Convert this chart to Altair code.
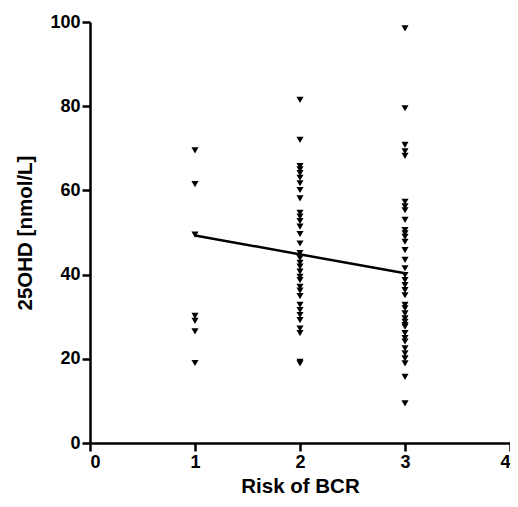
import altair as alt
import pandas as pd

group1 = [69.5, 61.5, 49.5, 30.2, 29.0, 26.5, 19.0]
group2 = [81.5, 72.0, 65.8, 65.0, 64.1, 63.0, 61.7, 60.1, 58.1, 54.7, 53.8, 52.7,
          51.4, 49.6, 47.4, 45.1, 43.9, 42.8, 41.9, 40.7, 39.5, 38.7, 37.1, 36.2,
          34.9, 32.8, 31.6, 30.4, 29.2, 27.2, 26.1, 19.3, 18.9]
group3 = [98.5, 79.5, 70.8, 69.3, 68.2, 57.3, 56.2, 55.3, 53.0, 50.6, 49.8, 49.0,
          47.8, 45.8, 43.5, 41.5, 39.9, 38.7, 37.5, 36.3, 35.1, 32.8, 32.0, 30.8,
          29.6, 28.8, 28.0, 27.6, 26.1, 24.9, 24.1, 22.5, 21.3, 20.1, 18.9, 15.7, 9.4]
fit_x = [1, 3]
fit_y = [49.3, 40.3]

rows = [{"risk": 1, "v": v} for v in group1] + \
       [{"risk": 2, "v": v} for v in group2] + \
       [{"risk": 3, "v": v} for v in group3]
pts = pd.DataFrame(rows)
fit = pd.DataFrame({"risk": fit_x, "v": fit_y})

FONT = "Liberation Sans"
xs = alt.Scale(domain=[0, 4], nice=False, zero=False)
ys = alt.Scale(domain=[0, 100], nice=False)

points = alt.Chart(pts).mark_point(shape="triangle-down", filled=True, color="black",
                                   size=50, opacity=1).encode(
    x=alt.X("risk:Q", scale=xs,
            axis=alt.Axis(title="Risk of BCR", values=[0, 1, 2, 3, 4], format="d")),
    y=alt.Y("v:Q", scale=ys,
            axis=alt.Axis(title="25OHD [nmol/L]", values=[0, 20, 40, 60, 80, 100])),
)
line = alt.Chart(fit).mark_line(color="black", strokeWidth=2.5).encode(
    x=alt.X("risk:Q", scale=xs, title="Risk of BCR"),
    y=alt.Y("v:Q", scale=ys, title="25OHD [nmol/L]"),
)

chart = alt.layer(points, line).properties(
    width=420, height=421,
    autosize=alt.AutoSizeParams(type="none"),
    padding={"left": 82, "top": 14, "right": 0, "bottom": 56},
).configure_view(stroke=None).configure_axis(
    grid=False, domainColor="black", domainWidth=2.5, tickColor="black", tickWidth=2.5,
    tickSize=8, labelFont=FONT, labelFontSize=18, labelFontWeight="bold",
    labelColor="black", labelPadding=2, titleFont=FONT, titleFontSize=20.5,
    titleFontWeight="bold", titleColor="black",
).configure_axisX(titlePadding=5).configure_axisY(titlePadding=14)

chart.save("out.html", embed_options={"renderer": "svg", "actions": False})
